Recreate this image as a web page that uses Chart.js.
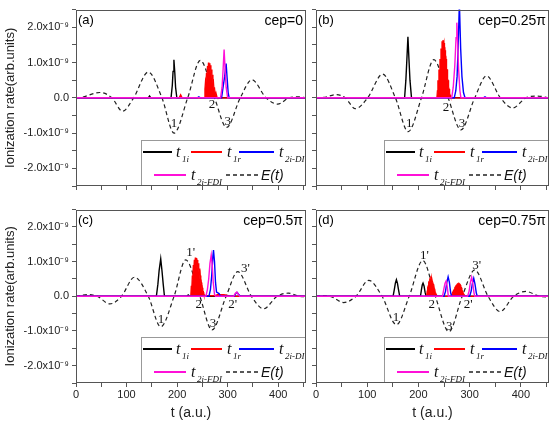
<!DOCTYPE html>
<html><head><meta charset="utf-8">
<script src="https://cdn.jsdelivr.net/npm/chart.js@4.4.1/dist/chart.umd.min.js"></script>
<style>
html,body{margin:0;padding:0;background:#fff;width:550px;height:428px;overflow:hidden;}
canvas{position:absolute;}
</style></head><body>
<canvas id="ca" width="310" height="200" style="left:0;top:0"></canvas>
<canvas id="cb" width="240" height="200" style="left:310px;top:0"></canvas>
<canvas id="cc" width="310" height="228" style="left:0;top:200px"></canvas>
<canvas id="cd" width="240" height="228" style="left:310px;top:200px"></canvas>
<script>
// ---------- DATA (values in units of 1e-9 arb. units; pairs are [t (a.u.), value]) ----------
const X_TICK_LABELS = [0, 100, 200, 300, 400];
const Y_TICK_VALUES = [-2, -1, 0, 1, 2];
const Y_TICK_LABELS = ['-2.0x10\u207B\u2079', '-1.0x10\u207B\u2079', '0.0', '1.0x10\u207B\u2079', '2.0x10\u207B\u2079'];
const SERIES_SUBS = ['1i', '1r', '2i-DI', '2i-FDI'];
const FIELD_NAME = 'E(t)';
const PANEL_LETTERS = ['(a)', '(b)', '(c)', '(d)'];
const CEP_LABELS = ['cep=0', 'cep=0.25\u03C0', 'cep=0.5\u03C0', 'cep=0.75\u03C0'];
const X_TITLE = 't (a.u.)';
const Y_TITLE = 'Ionization rate(arb.units)';

// panel (a) cep=0
const A_E = [[0,0],[10,0.01],[47,0.15],[71,0],[92,-0.38],[114,0],[143,0.73],[170,0],[194,-1.0],[221,0],[246,1.06],[274,0],[298,-0.84],[325,0],[348,0.51],[376,0],[399,-0.18],[422,0],[438,0.03],[455,0]];
const A_T1I = [[0,0],[143,0],[145.5,0.05],[148,0],[188,0],[190.5,0.35],[192,0.75],[193.7,1.08],[195.5,0.7],[197,0.3],[199.5,0],[455,0]];
const A_T1R = [[0,0],[204,0],[207,0.09],[210,0],[254,0],[255,0.25],[256,0.45],[257,0.35],[258,0.7],[259,0.6],[260,0.9],[261,0.75],[262,1.0],[263,0.85],[264,0.98],[265,0.8],[266,0.92],[267,0.7],[268,0.8],[269,0.55],[270,0.65],[271,0.4],[272,0.45],[273,0.25],[274,0.3],[275,0.12],[276,0.18],[277,0.05],[278,0.08],[279,0.02],[280,0],[455,0]];
const A_T2DI = [[0,0],[240,0],[243,0.03],[246,0],[288,0],[291,0.3],[294,0.6],[297,0.97],[299,0.55],[301,0.15],[303,0],[455,0]];
const A_T2FDI = [[0,0],[286,0],[289,0.3],[291,0.8],[293,1.37],[295,0.8],[297,0.3],[300,0],[455,0]];
const A_MARKS = [['1',194,-0.73],['2',269,-0.2],['3',300,-0.66]];

// panel (b) cep=0.25pi
const B_E = [[0,0],[15,0.01],[40,0.09],[57,0],[77,-0.31],[101,0],[130,0.67],[155,0],[180,-0.96],[206,0],[230,1.08],[258,0],[283,-0.91],[310,0],[333,0.62],[360,0],[384,-0.29],[410,0],[432,0.05],[455,0]];
const B_T1I = [[0,0],[173,0],[175.5,0.5],[177.5,1.1],[179.5,1.73],[181.5,1.1],[183.5,0.5],[186.5,0],[455,0]];
const B_T1R = [[0,0],[236,0],[237,0.2],[238,0.5],[239,0.4],[240,0.8],[241,0.7],[242,1.1],[243,1.0],[244,1.4],[245,1.3],[246,1.6],[247,1.5],[248,1.64],[249,1.45],[250,1.55],[251,1.3],[252,1.35],[253,1.05],[254,1.1],[255,0.8],[256,0.8],[257,0.5],[258,0.5],[259,0.3],[260,0.25],[261,0.12],[262,0.08],[263,0.03],[264,0],[455,0]];
const B_T2DI = [[0,0],[270,0],[273,0.2],[275.5,0.6],[277.5,1.4],[280,2.7],[282.5,1.4],[285,0.6],[288,0.15],[291,0],[327,0],[330,0.03],[333,0],[455,0]];
const B_T2FDI = [[0,0],[265,0],[268,0.3],[271,0.9],[273.5,1.7],[275,2.13],[276.5,1.6],[278.5,0.8],[281,0.2],[283,0],[455,0]];
const B_MARKS = [['1',182,-0.74],['2',254,-0.27],['3',285,-0.74]];

// panel (c) cep=0.5pi
const C_E = [[0,0],[24,0.05],[42,0],[67,-0.22],[90,0],[115.5,0.55],[143,0],[167.6,-0.88],[194,0],[217,1.05],[245,0],[269,-0.97],[297,0],[320,0.71],[347,0],[371,-0.36],[398,0],[420,0.09],[442,0],[455,-0.01]];
const C_T1I = [[0,0],[159,0],[162,0.35],[164.5,0.75],[167.6,1.08],[170,0.75],[172.5,0.35],[175,0],[219,0],[222,0.04],[225,0],[455,0]];
const C_T1R = [[0,0],[227,0],[228,0.3],[229,0.2],[230,0.6],[231,0.5],[232,0.9],[233,0.75],[234,1.05],[235,0.85],[236,1.12],[237,0.9],[238,1.1],[239,0.85],[240,1.05],[241,0.8],[242,0.95],[243,0.7],[244,0.8],[245,0.5],[246,0.6],[247,0.35],[248,0.4],[249,0.2],[250,0.25],[251,0.1],[252,0.12],[253,0.05],[256,0.02],[275,0.02],[280,0.05],[292,0.05],[300,0.03],[305,0],[455,0]];
const C_T2DI = [[0,0],[263,0],[266,0.2],[268.5,0.6],[270.5,1.1],[272,1.33],[274,1.0],[276,0.4],[278,0.12],[283,0.08],[286,0],[313,0],[316,0.08],[319,0.11],[322,0.05],[325,0],[455,0]];
const C_T2FDI = [[0,0],[257,0],[260,0.2],[262.5,0.5],[265,0.95],[267.5,1.19],[269.5,0.9],[271.5,0.4],[274,0.05],[276,0],[312,0],[315,0.08],[318,0.12],[321,0.06],[324,0],[455,0]];
const C_MARKS = [['1',168,-0.67],["1'",227,1.25],['2',243,-0.25],['3',271,-0.78],["2'",310,-0.25],["3'",335,0.8]];

// panel (d) cep=0.75pi
const D_E = [[0,0],[12,0.02],[28,0],[54,-0.18],[78,0],[103,0.46],[129,0],[157,-0.82],[182,0],[208.5,1.03],[233,0],[259.5,-1.02],[285.5,0],[310,0.76],[336,0],[359.5,-0.44],[386,0],[410,0.14],[436,0],[455,-0.02]];
const D_T1I = [[0,0],[150.5,0],[153,0.2],[155,0.38],[157,0.48],[159,0.38],[161,0.2],[163.5,0],[204,0],[206,0.2],[207.5,0.33],[209,0.38],[211,0.3],[213,0.12],[215,0],[455,0]];
const D_T1R = [[0,0],[216,0],[217,0.15],[218,0.25],[219,0.3],[220,0.4],[221,0.38],[222,0.48],[223,0.45],[224,0.53],[225,0.5],[226,0.52],[227,0.45],[228,0.45],[229,0.35],[230,0.33],[231,0.22],[232,0.2],[233,0.1],[234,0.08],[236,0.02],[238,0],[264,0],[266,0.08],[268,0.15],[270,0.2],[271,0.25],[272,0.27],[273,0.3],[274,0.32],[275,0.3],[276,0.35],[277,0.33],[278,0.37],[279,0.34],[280,0.36],[281,0.3],[282,0.32],[283,0.25],[284,0.25],[285,0.18],[286,0.15],[288,0.08],[290,0.03],[292,0],[455,0]];
const D_T2DI = [[0,0],[250,0],[253,0.15],[255.5,0.4],[258,0.56],[260.5,0.4],[263,0.1],[265,0],[300,0],[303,0.15],[305.5,0.38],[308,0.52],[310.5,0.35],[313,0.1],[315,0],[455,0]];
const D_T2FDI = [[0,0],[247,0],[249.5,0.2],[252,0.38],[254,0.44],[256,0.3],[258.5,0],[296,0],[299,0.15],[301.5,0.4],[304,0.55],[306,0.4],[308.5,0.1],[310,0],[455,0]];
const D_MARKS = [['1',156,-0.61],["1'",211.5,1.17],['2',226,-0.23],['3',260,-0.88],["2'",297,-0.25],["3'",314,0.9]];

// ---------- STYLE ----------
const COLORS = ['#000000', '#ff0000', '#0000ff', '#ff10d8'];
const AXIS_COLOR = '#555';
const SANS = '"Liberation Sans", Arial, sans-serif';
const SERIF = '"Liberation Serif", "Times New Roman", serif';

const pts = arr => arr.map(([x, y]) => ({x, y}));

const extras = {
  id: 'extras',
  afterDatasetsDraw(chart, args, o) {
    const ctx = chart.ctx, xs = chart.scales.x, ys = chart.scales.y, ca = chart.chartArea;
    ctx.save();
    // curve markers
    ctx.fillStyle = '#111';
    ctx.font = '13px ' + SERIF;
    ctx.textAlign = 'center'; ctx.textBaseline = 'middle';
    o.marks.forEach(([txt, t, v]) => ctx.fillText(txt, xs.getPixelForValue(t), ys.getPixelForValue(v)));
    // panel letter and cep
    ctx.fillStyle = '#000';
    ctx.font = '13px ' + SANS;
    ctx.textAlign = 'left';
    ctx.fillText(o.letter, ca.left + 2, ca.top + 11);
    ctx.font = '14px ' + SANS;
    ctx.textAlign = 'right';
    ctx.fillText(o.cep, ca.right - 3, ca.top + 12);
    // legend box
    const W = 165, H = 46;
    const L = Math.round(ca.right - W), T = Math.round(ca.bottom - H);
    ctx.fillStyle = '#fff';
    ctx.fillRect(L, T, W, H);
    ctx.strokeStyle = '#999'; ctx.lineWidth = 1;
    ctx.strokeRect(L + 0.5, T + 0.5, W - 1, H - 1);
    const items = [
      {c: 0, x1: 2, x2: 31, tx: 35, row: 0},
      {c: 1, x1: 50, x2: 81, tx: 86, row: 0},
      {c: 2, x1: 98, x2: 133, tx: 138, row: 0},
      {c: 3, x1: 13, x2: 45, tx: 50, row: 1}
    ];
    const rowY = [T + 12, T + 35];
    items.forEach(it => {
      const y = rowY[it.row];
      ctx.strokeStyle = COLORS[it.c]; ctx.lineWidth = 2; ctx.setLineDash([]);
      ctx.beginPath(); ctx.moveTo(L + it.x1, y); ctx.lineTo(L + it.x2, y); ctx.stroke();
      ctx.fillStyle = '#111';
      ctx.textAlign = 'left'; ctx.textBaseline = 'alphabetic';
      ctx.font = 'italic 16px ' + SERIF;
      ctx.fillText('t', L + it.tx, y + 5);
      ctx.font = 'italic 9px ' + SERIF;
      ctx.fillText(SERIES_SUBS[it.c], L + it.tx + 6, y + 10);
    });
    const y2 = rowY[1];
    ctx.strokeStyle = '#222'; ctx.lineWidth = 1.3; ctx.setLineDash([4, 3]);
    ctx.beginPath(); ctx.moveTo(L + 85, y2); ctx.lineTo(L + 117, y2); ctx.stroke();
    ctx.setLineDash([]);
    ctx.fillStyle = '#111';
    ctx.font = 'italic 14px ' + SANS;
    ctx.textBaseline = 'middle';
    ctx.fillText(FIELD_NAME, L + 120, y2 + 1);
    // frame
    ctx.strokeStyle = AXIS_COLOR; ctx.lineWidth = 1;
    const l = Math.round(ca.left) + 0.5, t = Math.round(ca.top) + 0.5;
    ctx.strokeRect(l, t, Math.round(ca.right) - Math.round(ca.left) - 1, Math.round(ca.bottom) - Math.round(ca.top) - 1);
    ctx.restore();
  }
};

function yLabel(v) {
  const i = Y_TICK_VALUES.findIndex(k => Math.abs(k - v) < 1e-6);
  return i >= 0 ? Y_TICK_LABELS[i] : '';
}
function xLabel(v) {
  return X_TICK_LABELS.some(k => Math.abs(k - v) < 1e-6) ? String(v) : '';
}

function makeChart(id, cfg) {
  const datasets = [
    {label: 't2i-FDI', data: pts(cfg.fdi), borderColor: COLORS[3], borderWidth: 1.4, order: 1},
    {label: 't2i-DI', data: pts(cfg.di), borderColor: COLORS[2], borderWidth: 1.4, order: 2},
    {label: 't1r', data: pts(cfg.t1r), borderColor: COLORS[1], backgroundColor: COLORS[1], fill: 'origin', borderWidth: 1.2, order: 3},
    {label: 't1i', data: pts(cfg.t1i), borderColor: COLORS[0], borderWidth: 1.4, order: 4},
    {label: 'E(t)', data: pts(cfg.e), borderColor: '#222', borderWidth: 1.2, borderDash: [4, 3], cubicInterpolationMode: 'monotone', order: 5}
  ];
  datasets.forEach(d => { d.pointRadius = 0; if (!d.cubicInterpolationMode) d.tension = 0; if (!d.fill) d.fill = false; });
  return new Chart(document.getElementById(id), {
    type: 'line',
    data: {datasets},
    plugins: [extras],
    options: {
      responsive: false, animation: false, devicePixelRatio: 1,
      layout: {padding: {top: cfg.padTop, right: cfg.padRight, left: 0, bottom: 0}},
      plugins: {legend: {display: false}, tooltip: {enabled: false},
        extras: {marks: cfg.marks, letter: cfg.letter, cep: cfg.cep}},
      scales: {
        x: {
          type: 'linear', min: 0, max: 455,
          afterFit: s => { s.height = cfg.xH; },
          border: {display: false},
          grid: {drawOnChartArea: false, drawTicks: true, tickLength: 4, tickColor: AXIS_COLOR},
          ticks: {stepSize: 50, includeBounds: false, autoSkip: false, maxRotation: 0, padding: 1,
            color: '#222', font: {family: SANS, size: 11},
            callback: v => cfg.xLabels ? xLabel(v) : ''},
          title: {display: cfg.xLabels, text: X_TITLE, color: '#222', font: {family: SANS, size: 14}, padding: {top: 0, bottom: 6}}
        },
        y: {
          type: 'linear', min: -2.5, max: 2.5,
          afterFit: s => { s.width = cfg.yW; },
          border: {display: false},
          grid: {drawOnChartArea: false, drawTicks: true, tickLength: 4, tickColor: AXIS_COLOR},
          ticks: {stepSize: 0.5, includeBounds: false, autoSkip: false, padding: 3,
            color: '#222', font: {family: SANS, size: 11},
            callback: v => cfg.yLabels ? yLabel(v) : ''},
          title: {display: cfg.yLabels, text: Y_TITLE, color: '#222', font: {family: SANS, size: 13}, padding: {top: 3, bottom: 0}}
        }
      }
    }
  });
}

makeChart('ca', {e: A_E, t1i: A_T1I, t1r: A_T1R, di: A_T2DI, fdi: A_T2FDI, marks: A_MARKS,
  letter: PANEL_LETTERS[0], cep: CEP_LABELS[0], padTop: 5, padRight: 4, yW: 76, xH: 14, xLabels: false, yLabels: true});
makeChart('cb', {e: B_E, t1i: B_T1I, t1r: B_T1R, di: B_T2DI, fdi: B_T2FDI, marks: B_MARKS,
  letter: PANEL_LETTERS[1], cep: CEP_LABELS[1], padTop: 5, padRight: 1, yW: 6, xH: 14, xLabels: false, yLabels: false});
makeChart('cc', {e: C_E, t1i: C_T1I, t1r: C_T1R, di: C_T2DI, fdi: C_T2FDI, marks: C_MARKS,
  letter: PANEL_LETTERS[2], cep: CEP_LABELS[2], padTop: 2, padRight: 4, yW: 76, xH: 45, xLabels: true, yLabels: true});
makeChart('cd', {e: D_E, t1i: D_T1I, t1r: D_T1R, di: D_T2DI, fdi: D_T2FDI, marks: D_MARKS,
  letter: PANEL_LETTERS[3], cep: CEP_LABELS[3], padTop: 2, padRight: 1, yW: 6, xH: 45, xLabels: true, yLabels: false});
</script>
</body></html>
